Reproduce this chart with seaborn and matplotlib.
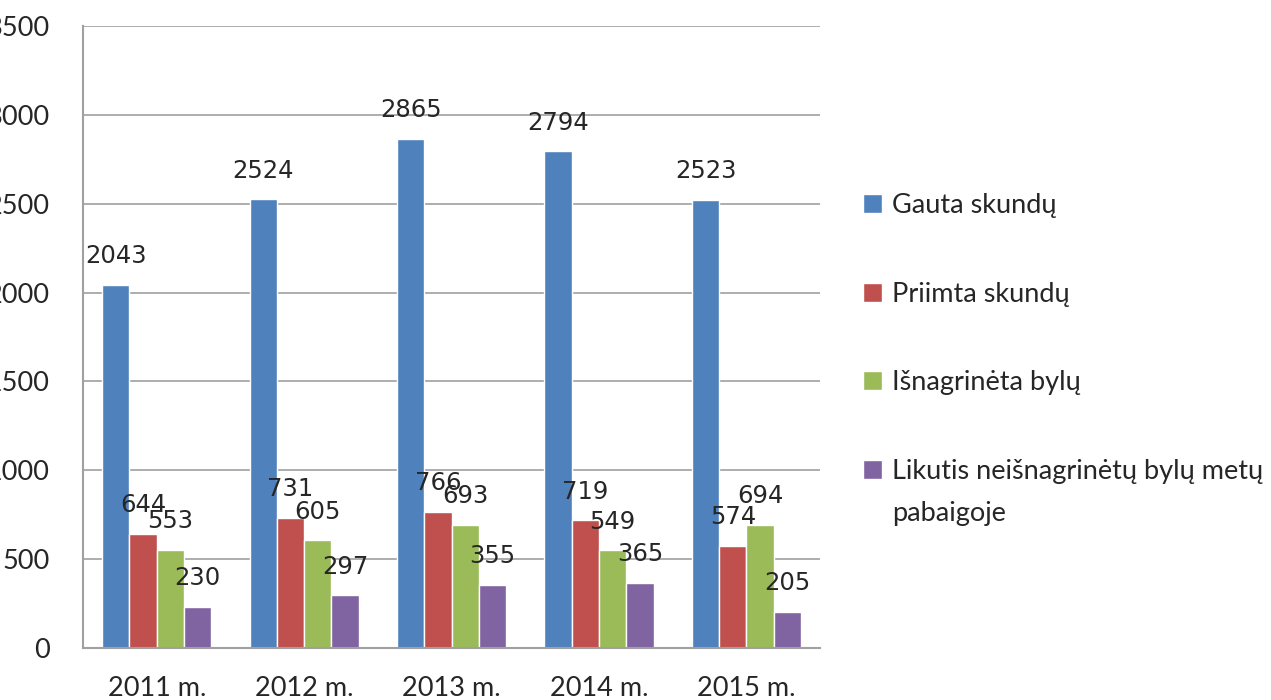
import matplotlib
matplotlib.use("Agg")
import matplotlib.pyplot as plt
import pandas as pd
import seaborn as sns

years = ["2011 m.", "2012 m.", "2013 m.", "2014 m.", "2015 m."]
series = ["Gauta skundų", "Priimta skundų", "Išnagrinėta bylų",
          "Likutis neišnagrinėtų bylų metų pabaigoje"]
gauta = [2043, 2524, 2865, 2794, 2523]
priimta = [644, 731, 766, 719, 574]
isnagrineta = [553, 605, 693, 549, 694]
likutis = [230, 297, 355, 365, 205]
colors = ["#4F81BD", "#C0504D", "#9BBB59", "#8064A2"]
y_ticks = [0, 500, 1000, 1500, 2000, 2500, 3000, 3500]

rows = []
for name, vals in zip(series, [gauta, priimta, isnagrineta, likutis]):
    for yr, v in zip(years, vals):
        rows.append({"year": yr, "series": name, "value": v})
df = pd.DataFrame(rows)

sns.set_style("white")
plt.rcParams["font.family"] = ["Lato", "DejaVu Sans"]

fig = plt.figure(figsize=(12.71, 7.0), dpi=100)
ax = fig.add_axes([0.0653, 0.0743, 0.580, 0.8886])

sns.barplot(data=df, x="year", y="value", hue="series", palette=colors,
            width=0.74, saturation=1, ax=ax, legend=True)

# value labels above every bar
for cont in ax.containers:
    ax.bar_label(cont, padding=12, fontsize=17.5, family="DejaVu Sans")

ax.set_ylim(0, 3500)
ax.set_yticks(y_ticks)
ax.set_xlim(-0.5, 4.5)
ax.yaxis.grid(True, color="#A0A0A0", linewidth=1.2)
ax.set_axisbelow(True)
for s in ["top", "right"]:
    ax.spines[s].set_visible(False)
for s in ["left", "bottom"]:
    ax.spines[s].set_color("#A0A0A0")
    ax.spines[s].set_linewidth(1.5)
# y labels sit partly outside the canvas, like in the original
ax.tick_params(axis="y", length=0, pad=24, labelsize=19.5)
ax.tick_params(axis="x", length=0, pad=20, labelsize=19.5)
ax.set_xlabel("")
ax.set_ylabel("")

# legend: the long last label wraps, with the marker on its first line
handles, labels = ax.get_legend_handles_labels()
ax.get_legend().remove()
first, rest = labels[3].rsplit(" ", 1)
labels[3] = first
leg = fig.legend(handles, labels, loc="upper left", bbox_to_anchor=(0.66, 0.759),
                 frameon=False, fontsize=19.5, handlelength=0.7, handleheight=0.7,
                 handletextpad=0.35, labelspacing=2.35)
fig.canvas.draw()
bb = leg.get_texts()[3].get_window_extent().transformed(fig.transFigure.inverted())
fig.text(bb.x0, bb.y0 - 0.06, rest, fontsize=19.5, va="bottom", ha="left")

fig.savefig("out.png", dpi=100)
